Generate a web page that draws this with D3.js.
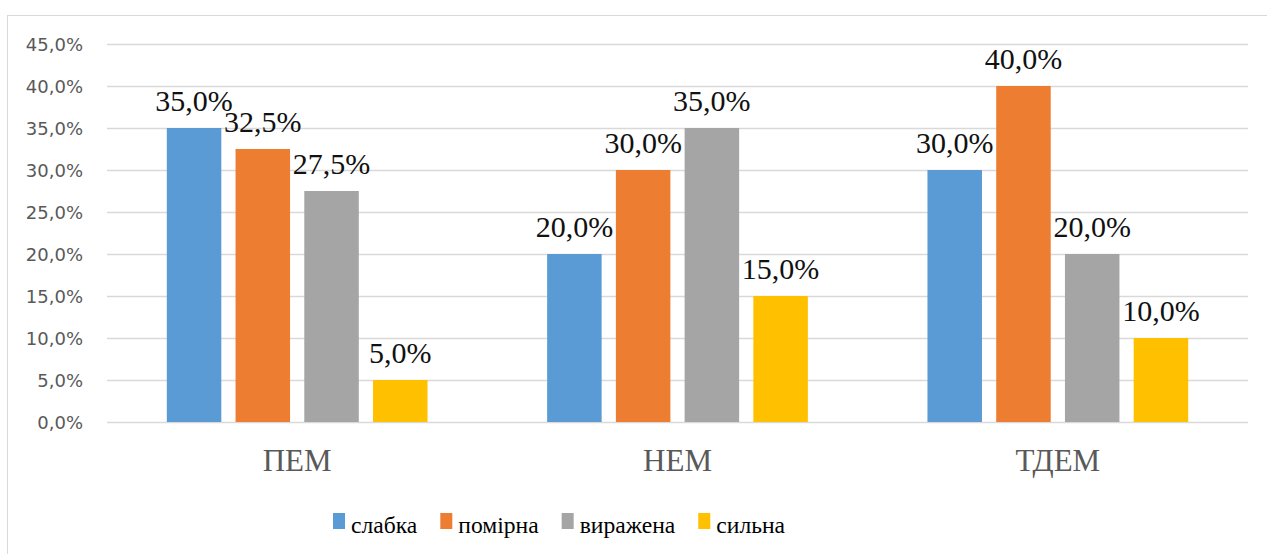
<!DOCTYPE html>
<html>
<head>
<meta charset="utf-8">
<script src="https://cdn.jsdelivr.net/npm/d3@7"></script>
</head>
<body style="margin:0">
<div id="vis"></div>
<script>
var categories = ["ПЕМ", "НЕМ", "ТДЕМ"];
var series = ["слабка", "помірна", "виражена", "сильна"];
var slabka   = [35.0, 20.0, 30.0];
var pomirna  = [32.5, 30.0, 40.0];
var vyrazhena = [27.5, 35.0, 20.0];
var sylna    = [5.0, 15.0, 10.0];
var yTicks = [0, 5, 10, 15, 20, 25, 30, 35, 40, 45];
var colors = ["#5b9bd5", "#ed7d31", "#a5a5a5", "#ffc000"];

var serif = "'Liberation Serif'";

var values = [slabka, pomirna, vyrazhena, sylna];
var data = [];
categories.forEach(function (c, ci) {
    series.forEach(function (s, si) {
        data.push({cat: c, ser: s, value: values[si][ci]});
    });
});

var width = 1267, height = 554;
var margin = {top: 44, right: 19, bottom: 132, left: 107};

var svg = d3.select("#vis").append("svg")
    .attr("width", width)
    .attr("height", height);

// chart border
svg.append("rect")
    .attr("x", 7.5).attr("y", 15.5)
    .attr("width", width + 10).attr("height", height + 10)
    .attr("fill", "none")
    .attr("stroke", "#d9d9d9");

var x0 = d3.scaleBand()
    .domain(categories)
    .range([margin.left, width - margin.right]);

var x1 = d3.scaleBand()
    .domain(series)
    .range([0, x0.bandwidth()])
    .paddingInner(0.207)
    .paddingOuter(0.87);

var y = d3.scaleLinear()
    .domain([0, 45])
    .range([height - margin.bottom, margin.top]);

var fmt = function (v) { return v.toFixed(1).replace(".", ",") + "%"; };

// gridlines
svg.append("g")
    .selectAll("line")
    .data(yTicks)
    .join("line")
      .attr("x1", margin.left)
      .attr("x2", width - margin.right)
      .attr("y1", d => Math.round(y(d)) + 0.5)
      .attr("y2", d => Math.round(y(d)) + 0.5)
      .attr("stroke", "#d9d9d9")
      .attr("stroke-width", 1.3);

// y axis labels
var yAxis = g => g
    .attr("transform", `translate(${margin.left - 21},0)`)
    .call(d3.axisLeft(y).tickValues(yTicks).tickFormat(fmt).tickSize(0))
    .call(g => g.select(".domain").remove())
    .call(g => g.selectAll("text")
        .attr("fill", "#595959")
        .style("font-family", "'DejaVu Sans'")
        .style("font-size", "18px")
        .attr("dy", "0.36em"));
svg.append("g").call(yAxis);

// bars
svg.append("g")
    .selectAll("rect")
    .data(data)
    .join("rect")
      .attr("fill", d => colors[series.indexOf(d.ser)])
      .attr("x", d => x0(d.cat) + x1(d.ser))
      .attr("y", d => y(d.value))
      .attr("width", x1.bandwidth())
      .attr("height", d => y(0) - y(d.value));

// value labels
svg.append("g")
    .selectAll("text")
    .data(data)
    .join("text")
      .attr("x", d => x0(d.cat) + x1(d.ser) + x1.bandwidth() / 2)
      .attr("y", d => y(d.value) - 17.5)
      .attr("text-anchor", "middle")
      .style("font-family", serif)
      .style("font-size", "30px")
      .attr("fill", "#111")
      .text(d => fmt(d.value));

// category labels
var xAxis = g => g
    .attr("transform", `translate(0,${y(0)})`)
    .call(d3.axisBottom(x0).tickSize(0))
    .call(g => g.select(".domain").remove())
    .call(g => g.selectAll("text")
        .attr("y", 49)
        .attr("dy", 0)
        .attr("fill", "#595959")
        .style("font-family", serif)
        .style("font-size", "31px"));
svg.append("g").call(xAxis);

// legend
var legend = svg.append("g");

var items = legend.selectAll("g")
    .data(series)
    .join("g");

items.append("rect")
    .attr("width", 12)
    .attr("height", 16)
    .attr("y", -20)
    .attr("fill", (d, i) => colors[i]);

items.append("text")
    .attr("x", 18)
    .attr("fill", "#000")
    .style("font-family", serif)
    .style("font-size", "23.6px")
    .text(d => d);

var pos = 333, gap = 23, offs = [];
items.each(function () {
    offs.push(pos);
    pos += 18 + this.querySelector("text").getComputedTextLength() + gap;
});
items.attr("transform", (d, i) => `translate(${offs[i]},533)`);
</script>
</body>
</html>
